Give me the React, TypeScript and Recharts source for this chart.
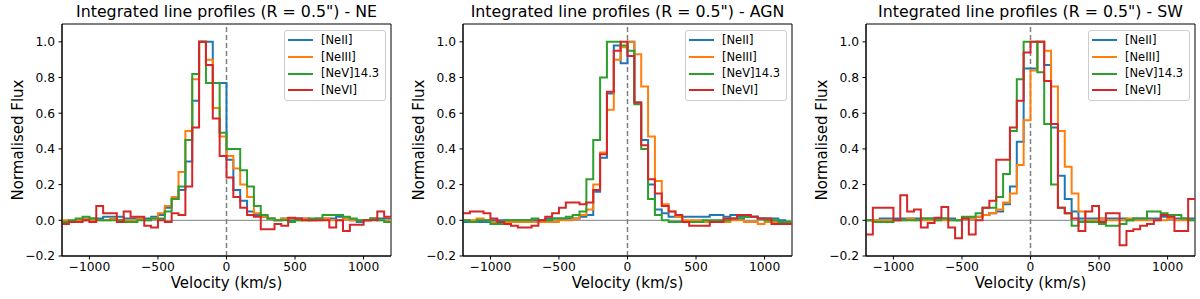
import React from 'react';
import { LineChart, Line, XAxis, YAxis, ReferenceLine, ReferenceArea } from 'recharts';

// left bin edges in km/s (last entry closes the final bin)
const VELOCITY = [
  -1200, -1150, -1100, -1050, -1000, -950, -900, -850, -800, -750, -700, -650,
  -600, -550, -500, -450, -400, -350, -300, -250, -200, -150, -100, -50,
  0, 50, 100, 150, 200, 250, 300, 350, 400, 450, 500, 550,
  600, 650, 700, 750, 800, 850, 900, 950, 1000, 1050, 1100, 1150, 1200,
];

// NE
const NE_NEII = [
  -0.01, -0.01, 0.0, 0.0, 0.01, 0.01, 0.02, 0.02, 0.02, 0.01, 0.01, 0.01,
  0.01, 0.02, 0.03, 0.07, 0.12, 0.17, 0.33, 0.67, 1.0, 1.0, 0.77, 0.77,
  0.34, 0.17, 0.11, 0.05, 0.03, 0.02, 0.01, 0.0, 0.01, 0.0, 0.01, 0.01,
  0.0, 0.01, 0.01, 0.01, 0.02, 0.01, 0.0, -0.01, 0.0, 0.01, 0.01, 0.01,
];
const NE_NEIII = [
  0.0, -0.01, 0.0, 0.01, 0.0, 0.0, 0.0, 0.01, 0.0, 0.0, 0.0, 0.01,
  0.0, 0.01, 0.04, 0.08, 0.13, 0.27, 0.5, 0.79, 1.0, 0.9, 0.63, 0.47,
  0.36, 0.29, 0.2, 0.13, 0.04, 0.02, 0.01, 0.0, 0.01, 0.01, 0.0, 0.01,
  0.0, 0.0, 0.01, 0.0, 0.0, 0.01, 0.0, 0.0, 0.0, 0.01, 0.0, 0.0,
];
const NE_NEV = [
  -0.01, 0.0, 0.01, 0.02, 0.01, 0.0, 0.0, 0.0, 0.0, -0.01, -0.01, 0.0,
  0.0, 0.01, 0.01, 0.05, 0.12, 0.19, 0.45, 0.82, 1.0, 0.77, 0.77, 0.49,
  0.4, 0.4, 0.28, 0.19, 0.08, 0.03, 0.01, 0.0, 0.0, -0.01, 0.0, 0.0,
  0.01, 0.01, 0.03, 0.03, 0.03, 0.02, 0.01, 0.0, 0.0, 0.01, 0.0, -0.01,
];
const NE_NEVI = [
  -0.02, -0.01, -0.01, 0.0, -0.01, 0.08, 0.04, 0.04, -0.01, 0.05, 0.02, 0.02,
  -0.03, -0.04, 0.0, -0.01, 0.04, 0.03, 0.19, 0.52, 1.0, 0.87, 0.57, 0.36,
  0.24, 0.13, 0.07, 0.03, 0.02, -0.05, -0.05, -0.02, -0.03, 0.015, 0.01, 0.0,
  0.0, 0.0, 0.0, -0.04, 0.0, -0.06, -0.025, -0.025, 0.0, 0.0, 0.05, 0.02,
];

// AGN
const AGN_NEII = [
  -0.01, -0.01, -0.01, -0.01, 0.0, 0.0, 0.0, 0.0, 0.0, 0.0, 0.0, 0.0,
  0.01, 0.01, 0.01, 0.01, 0.01, 0.02, 0.03, 0.16, 0.35, 0.71, 0.98, 0.88,
  1.0, 0.66, 0.45, 0.2, 0.06, 0.04, 0.02, 0.02, 0.02, 0.02, 0.02, 0.02,
  0.03, 0.03, 0.02, 0.03, 0.02, 0.02, 0.02, 0.01, 0.01, 0.01, 0.0, -0.01,
];
const AGN_NEIII = [
  0.0, 0.0, 0.01, 0.0, -0.01, -0.01, -0.01, -0.01, -0.01, -0.01, -0.01, -0.01,
  -0.01, -0.01, 0.0, 0.0, 0.01, 0.03, 0.06, 0.2, 0.38, 0.62, 0.9, 0.97,
  1.0, 0.93, 0.75, 0.47, 0.22, 0.09, 0.05, 0.02, 0.0, 0.0, 0.0, -0.01,
  -0.01, -0.01, -0.01, 0.0, 0.0, -0.01, -0.01, -0.02, -0.01, -0.01, -0.02, -0.01,
];
const AGN_NEV = [
  0.0, -0.01, 0.0, 0.0, -0.02, -0.02, 0.0, 0.0, 0.0, 0.0, 0.01, 0.0,
  0.0, 0.01, 0.01, 0.02, 0.03, 0.05, 0.23, 0.45, 0.8, 1.0, 1.0, 0.98,
  0.95, 0.65, 0.4, 0.12, 0.03, 0.0, -0.01, -0.01, -0.01, -0.01, -0.01, 0.0,
  0.0, 0.0, 0.0, 0.01, 0.01, 0.02, 0.02, 0.01, 0.0, 0.0, -0.01, -0.01,
];
const AGN_NEVI = [
  0.04, 0.05, 0.05, 0.04, 0.01, -0.01, -0.02, -0.03, -0.04, -0.04, -0.03, 0.0,
  0.02, 0.04, 0.07, 0.1, 0.1, 0.09, 0.1, 0.17, 0.37, 0.72, 0.95, 1.0,
  0.92, 0.66, 0.42, 0.23, 0.15, 0.08, 0.05, 0.03, -0.01, -0.03, -0.03, -0.03,
  -0.01, -0.01, 0.01, 0.01, 0.03, 0.03, 0.02, 0.01, 0.01, -0.02, -0.02, -0.02,
];

// SW
const SW_NEII = [
  0.0, 0.0, 0.01, 0.01, 0.01, 0.01, 0.01, 0.01, 0.01, 0.01, 0.01, 0.01,
  0.01, 0.0, 0.01, 0.01, 0.02, 0.03, 0.04, 0.05, 0.09, 0.19, 0.44, 0.85,
  0.85, 1.0, 0.87, 0.52, 0.25, 0.12, 0.05, 0.01, 0.01, 0.01, 0.01, 0.01,
  0.01, 0.01, 0.0, 0.01, 0.01, 0.01, 0.01, 0.02, 0.01, 0.01, 0.01, 0.01,
];
const SW_NEIII = [
  0.0, 0.0, 0.0, 0.0, 0.0, 0.0, 0.01, 0.0, 0.0, 0.0, 0.0, 0.0,
  0.0, 0.0, 0.01, 0.01, 0.02, 0.03, 0.04, 0.06, 0.1, 0.15, 0.31, 0.56,
  0.84, 1.0, 0.95, 0.75, 0.5, 0.3, 0.15, 0.05, 0.0, 0.0, 0.01, 0.0,
  0.0, 0.0, 0.01, 0.0, 0.0, 0.0, 0.0, 0.0, 0.01, 0.0, 0.0, 0.0,
];
const SW_NEV = [
  0.0, -0.01, -0.01, -0.01, 0.0, 0.0, 0.0, 0.0, 0.01, 0.01, 0.0, 0.01,
  0.0, 0.0, 0.02, 0.02, 0.04, 0.07, 0.07, 0.13, 0.26, 0.5, 0.79, 1.0,
  1.0, 0.83, 0.54, 0.2, 0.07, 0.04, -0.03, -0.01, -0.01, -0.01, -0.02, -0.03,
  -0.03, -0.02, 0.0, 0.01, 0.01, 0.05, 0.05, 0.04, 0.03, 0.03, 0.01, 0.0,
];
const SW_NEVI = [
  -0.08, 0.07, 0.07, 0.07, 0.0, 0.14, 0.05, 0.06, -0.04, -0.015, 0.015, 0.075,
  -0.04, -0.1, 0.01, -0.08, 0.0, 0.07, 0.11, 0.34, 0.34, 0.52, 0.67, 0.94,
  1.0, 1.0, 0.78, 0.54, 0.07, 0.04, 0.01, -0.06, 0.05, 0.08, -0.01, 0.04,
  0.04, -0.14, -0.06, -0.05, -0.03, -0.02, 0.0, 0.03, 0.02, -0.06, -0.06, 0.12,
];

const SERIES = [
  { key: 'neII', name: '[NeII]', color: '#1f77b4' },
  { key: 'neIII', name: '[NeIII]', color: '#ff7f0e' },
  { key: 'neV', name: '[NeV]14.3', color: '#2ca02c' },
  { key: 'neVI', name: '[NeVI]', color: '#d62728' },
];

const X_TICKS = [-1000, -500, 0, 500, 1000];
const Y_TICKS = [-0.2, 0, 0.2, 0.4, 0.6, 0.8, 1.0];

const FONT = '"DejaVu Sans", Verdana, sans-serif';
const minus = (s: string) => s.replace('-', '\u2212');

function buildRows(neII: number[], neIII: number[], neV: number[], neVI: number[]) {
  const last = neII.length - 1;
  return VELOCITY.map((v, i) => {
    const j = Math.min(i, last);
    return { v, neII: neII[j], neIII: neIII[j], neV: neV[j], neVI: neVI[j] };
  });
}

const PANELS = [
  { region: 'NE', left: 2, rows: buildRows(NE_NEII, NE_NEIII, NE_NEV, NE_NEVI) },
  { region: 'AGN', left: 403, rows: buildRows(AGN_NEII, AGN_NEIII, AGN_NEV, AGN_NEVI) },
  { region: 'SW', left: 806, rows: buildRows(SW_NEII, SW_NEIII, SW_NEV, SW_NEVI) },
];

const W = 391;
const H = 299;
const Y_AXIS_W = 60;
const PLOT_W = 329;

const Panel = ({ region, left, rows }: { region: string; left: number; rows: any[] }) => (
  <div style={{ position: 'absolute', left, top: 0, width: W, height: H }}>
    <LineChart width={W} height={H} data={rows} margin={{ top: 24, right: 2, bottom: 0, left: 0 }}>
      <XAxis
        dataKey="v"
        type="number"
        domain={[-1200, 1200]}
        ticks={X_TICKS}
        allowDataOverflow
        height={43}
        tickSize={3.5}
        tickMargin={2.5}
        stroke="#000"
        tick={{ fill: '#000', fontSize: 12.3, fontFamily: FONT }}
        tickFormatter={(v: number) => minus(String(v))}
      />
      <YAxis
        type="number"
        domain={[-0.2, 1.1]}
        ticks={Y_TICKS}
        allowDataOverflow
        width={Y_AXIS_W}
        tickSize={3.5}
        tickMargin={3.5}
        stroke="#000"
        tick={{ fill: '#000', fontSize: 12.3, fontFamily: FONT }}
        tickFormatter={(v: number) => minus(v.toFixed(1))}
      />
      <ReferenceLine y={0} stroke="#808080" strokeWidth={1} />
      <ReferenceLine x={0} stroke="#808080" strokeWidth={1.5} strokeDasharray="5 3" />
      {SERIES.map((s) => (
        <Line
          key={s.key}
          type="stepAfter"
          dataKey={s.key}
          stroke={s.color}
          strokeWidth={2}
          dot={false}
          isAnimationActive={false}
        />
      ))}
      <ReferenceArea x1={-1200} x2={1200} y1={-0.2} y2={1.1} fill="none" stroke="#000" strokeWidth={1} />
    </LineChart>

    <div
      style={{
        position: 'absolute', left: Y_AXIS_W, top: 4, width: PLOT_W, textAlign: 'center',
        fontSize: 15.8, lineHeight: '16px', whiteSpace: 'nowrap',
      }}
    >
      Integrated line profiles (R = 0.5") - {region}
    </div>

    <div
      style={{
        position: 'absolute', left: Y_AXIS_W, top: 276, width: PLOT_W, textAlign: 'center',
        fontSize: 15, lineHeight: '15px',
      }}
    >
      Velocity (km/s)
    </div>

    <div
      style={{
        position: 'absolute', left: Y_AXIS_W - 44 - 100, top: 140 - 10, width: 200, height: 20,
        lineHeight: '20px', textAlign: 'center', fontSize: 15, transform: 'rotate(-90deg)',
      }}
    >
      Normalised Flux
    </div>

    <div
      style={{
        position: 'absolute', left: Y_AXIS_W + PLOT_W - 5 - 102, top: 29.5, width: 102, height: 71,
        boxSizing: 'border-box', border: '1px solid #cccccc', borderRadius: 3,
        background: 'rgba(255,255,255,0.8)', paddingTop: 1.5,
      }}
    >
      {SERIES.map((s) => (
        <div key={s.key} style={{ position: 'relative', height: 16.7 }}>
          <div
            style={{
              position: 'absolute', left: 3, top: 7.3, width: 25, height: 2, background: s.color,
            }}
          />
          <div
            style={{
              position: 'absolute', left: 36, top: 0, fontSize: 11.5, lineHeight: '16.7px', whiteSpace: 'nowrap',
            }}
          >
            {s.name}
          </div>
        </div>
      ))}
    </div>
  </div>
);

export default function App() {
  return (
    <div
      style={{
        position: 'absolute', left: 0, top: 0, width: 1200, height: 299, background: '#fff',
        overflow: 'hidden', fontFamily: FONT, color: '#000',
      }}
    >
      {PANELS.map((p) => (
        <Panel key={p.region} region={p.region} left={p.left} rows={p.rows} />
      ))}
    </div>
  );
}
